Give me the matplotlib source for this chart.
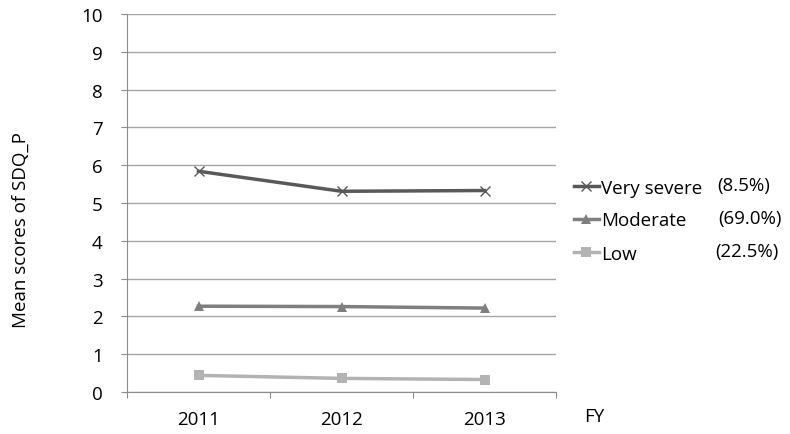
import matplotlib
matplotlib.use("Agg")
import matplotlib.pyplot as plt

years = ["2011", "2012", "2013"]
very_severe = [5.84, 5.31, 5.33]
moderate = [2.27, 2.26, 2.22]
low = [0.44, 0.36, 0.33]
series_names = ["Very severe", "Moderate", "Low"]
series_pcts = ["(8.5%)", "(69.0%)", "(22.5%)"]
y_ticks = list(range(0, 11))

plt.rcParams['font.family'] = ['Open Sans', 'DejaVu Sans']
FS = 13.5

fig = plt.figure(figsize=(7.9, 4.35), dpi=100)
ax = fig.add_axes([127/790, 1-393/435, (556-127)/790, (393-15)/435])

x = list(range(len(years)))
colors = ["#595959", "#7f7f7f", "#b3b3b3"]
markers = ["x", "^", "s"]
data = [very_severe, moderate, low]
handles = []
for vals, c, m, name in zip(data, colors, markers, series_names):
    h, = ax.plot(x, vals, color=c, lw=2.5, marker=m, markersize=7,
                 markeredgewidth=1.0 if m == "x" else 0, markerfacecolor=c,
                 markeredgecolor=c, label=name, zorder=3)
    handles.append(h)

ax.set_xlim(-0.5, len(years) - 0.5)
ax.set_ylim(0, 10)
ax.set_yticks(y_ticks)
ax.set_yticklabels([str(t) for t in y_ticks], fontsize=FS)
ax.yaxis.grid(True, color="#a6a6a6", lw=1)
ax.set_axisbelow(True)

ax.set_xticks([i - 0.5 for i in range(len(years) + 1)])
ax.set_xticklabels([])
ax.set_xticks(x, minor=True)
ax.set_xticklabels(years, minor=True, fontsize=FS)
ax.tick_params(axis="x", which="minor", length=0, pad=13)
ax.tick_params(axis="x", which="major", length=4.5, color="#8c8c8c", direction="out")
ax.tick_params(axis="y", length=4.5, color="#8c8c8c", pad=13)

for s in ["top", "right"]:
    ax.spines[s].set_visible(False)
for s in ["left", "bottom"]:
    ax.spines[s].set_color("#8c8c8c")

fig.text(21/790, 1-230/435, "Mean scores of SDQ_P", fontsize=FS,
         rotation=90, va="center", ha="center")
fig.text(594/790, 1-417/435, "FY", fontsize=FS, va="center", ha="center")

leg = fig.legend(handles=handles, labels=series_names, loc="upper left",
                 bbox_to_anchor=(566.5/790, 1-172/435), frameon=False,
                 fontsize=FS, handlelength=1.33, handletextpad=0.1,
                 labelspacing=0.8, borderaxespad=0)
for y, p, xp in zip([186, 219, 252], series_pcts, [717, 718, 715]):
    fig.text(xp/790, 1-y/435, p, fontsize=FS, va="center", ha="left")

fig.savefig("out.png", dpi=100)
